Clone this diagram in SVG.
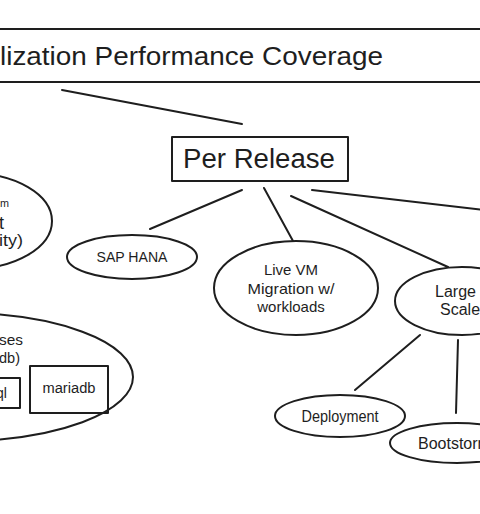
<svg xmlns="http://www.w3.org/2000/svg" width="480" height="514" viewBox="0 0 480 514">
<style>
.s{fill:none;stroke:#1e1e1e;stroke-width:2;stroke-linecap:round;stroke-linejoin:round}
.t{font-family:"Liberation Sans","DejaVu Sans",sans-serif;fill:#1e1e1e}
.c{text-anchor:middle}
</style>
<rect width="480" height="514" fill="#ffffff"/>
<g id="title">
<line class="s" x1="-5" y1="29" x2="485" y2="29" stroke-width="2.5"/>
<line class="s" x1="-5" y1="82" x2="485" y2="82" stroke-width="2.5"/>
<text class="t" x="0" y="65" font-size="26" textLength="383" lengthAdjust="spacingAndGlyphs">lization Performance Coverage</text>
</g>
<g id="connectors">
<line class="s" x1="62" y1="90" x2="242" y2="124"/>
<line class="s" x1="242" y1="190" x2="150" y2="229"/>
<line class="s" x1="264" y1="188" x2="293" y2="241"/>
<line class="s" x1="291" y1="196" x2="448" y2="267"/>
<line class="s" x1="312" y1="190" x2="485" y2="210"/>
<line class="s" x1="420" y1="335" x2="355" y2="390"/>
<line class="s" x1="458" y1="340" x2="456" y2="413"/>
</g>
<g id="per-release">
<rect class="s" x="172" y="137" width="176" height="44"/>
<text class="t c" x="259" y="168" font-size="27" textLength="152" lengthAdjust="spacingAndGlyphs">Per Release</text>
</g>
<g id="platform">
<ellipse class="s" cx="-30" cy="221" rx="82" ry="48"/>
<text class="t" x="0" y="207" font-size="11" textLength="9" lengthAdjust="spacingAndGlyphs">m</text>
<text class="t" x="-1" y="229" font-size="18">t</text>
<text class="t" x="-1" y="246" font-size="16" textLength="24" lengthAdjust="spacingAndGlyphs">ity)</text>
</g>
<g id="sap-hana">
<ellipse class="s" cx="132" cy="257" rx="65" ry="22"/>
<text class="t c" x="132" y="262" font-size="14" textLength="71" lengthAdjust="spacingAndGlyphs">SAP HANA</text>
</g>
<g id="live-vm">
<ellipse class="s" cx="296" cy="288" rx="82" ry="47"/>
<text class="t c" x="291" y="275" font-size="15">Live VM</text>
<text class="t c" x="291" y="294" font-size="15" textLength="87" lengthAdjust="spacingAndGlyphs">Migration w/</text>
<text class="t c" x="291" y="312" font-size="15">workloads</text>
</g>
<g id="large-scale">
<ellipse class="s" cx="462" cy="301" rx="67" ry="34"/>
<text class="t" x="435" y="297" font-size="16">Large</text>
<text class="t" x="440" y="315" font-size="16">Scale</text>
</g>
<g id="databases">
<ellipse class="s" cx="-40" cy="377" rx="173" ry="64"/>
<text class="t" x="-1" y="345" font-size="15" textLength="24" lengthAdjust="spacingAndGlyphs">ses</text>
<text class="t" x="-1" y="363" font-size="15" textLength="21" lengthAdjust="spacingAndGlyphs">db)</text>
</g>
<g id="mysql">
<rect class="s" x="-10" y="378" width="30" height="30"/>
<text class="t" x="-4" y="398" font-size="14">ql</text>
</g>
<g id="mariadb">
<rect class="s" x="30" y="366" width="78" height="47"/>
<text class="t c" x="69" y="393" font-size="14" textLength="53" lengthAdjust="spacingAndGlyphs">mariadb</text>
</g>
<g id="deployment">
<ellipse class="s" cx="340" cy="416" rx="65" ry="21"/>
<text class="t c" x="340" y="422" font-size="16" textLength="77" lengthAdjust="spacingAndGlyphs">Deployment</text>
</g>
<g id="bootstorm">
<ellipse class="s" cx="457" cy="443" rx="67" ry="20"/>
<text class="t" x="418" y="449" font-size="16">Bootstorm</text>
</g>
</svg>
